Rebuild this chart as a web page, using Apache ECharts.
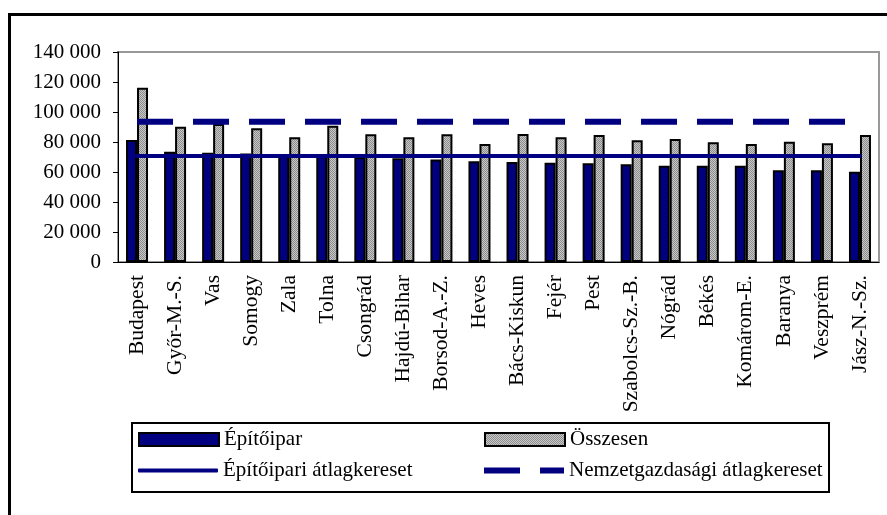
<!DOCTYPE html>
<html>
<head>
<meta charset="utf-8">
<script src="https://cdn.jsdelivr.net/npm/echarts@6/dist/echarts.min.js"></script>
<style>
  html, body { margin: 0; padding: 0; background: #fff; }
  #chart { width: 887px; height: 515px; }
</style>
</head>
<body>
<div id="chart"></div>
<script>
const categories = ["Budapest", "Győr-M.-S.", "Vas", "Somogy", "Zala", "Tolna", "Csongrád",
  "Hajdú-Bihar", "Borsod-A.-Z.", "Heves", "Bács-Kiskun", "Fejér", "Pest", "Szabolcs-Sz.-B.",
  "Nógrád", "Békés", "Komárom-E.", "Baranya", "Veszprém", "Jász-N.-Sz."];
const epitoipar = [81300, 73500, 72900, 72400, 72000, 72000, 69800, 69100, 68400, 67100,
  66700, 66200, 65800, 65100, 64200, 64200, 64200, 61100, 61100, 60200];
const osszesen = [116200, 90200, 92000, 89100, 83100, 90900, 85100, 83100, 85100, 78700,
  85300, 83100, 84700, 81100, 82000, 79800, 78700, 80200, 79100, 84700];
const epitoiparAtlag = 70700;
const nemzetgazdAtlag = 93500;
const yTicks = [0, 20000, 40000, 60000, 80000, 100000, 120000, 140000];

const FONT = "Liberation Serif";
const NAVY = "#000080";

// dithered gray fill like the original
const pat = document.createElement("canvas");
pat.width = 2; pat.height = 2;
const pc = pat.getContext("2d");
pc.fillStyle = "#c8c8c8"; pc.fillRect(0, 0, 2, 2);
pc.fillStyle = "#8c8c8c"; pc.fillRect(0, 0, 1, 1); pc.fillRect(1, 1, 1, 1);

function legendItem(name, icon, left, top, iconH, itemStyle) {
  const lg = {
    data: [{ name: name, icon: icon }],
    left: left,
    top: top,
    padding: 0,
    itemWidth: 80,
    itemHeight: iconH,
    itemGap: 0,
    selectedMode: false,
    textStyle: { fontFamily: FONT, fontSize: 21, color: "#000" }
  };
  if (itemStyle) lg.itemStyle = itemStyle;
  return lg;
}
const lineIcon = { color: NAVY, borderWidth: 0 };

const chart = echarts.init(document.getElementById("chart"));
chart.setOption({
  animation: false,
  backgroundColor: "#fff",
  grid: {
    left: 118, top: 52, right: 8, bottom: 253,
    show: true, borderColor: "#999", borderWidth: 2, backgroundColor: "transparent"
  },
  legend: [
    legendItem("Építőipar", "rect", 138, 429, 13),
    legendItem("Összesen", "rect", 484, 429, 13),
    legendItem("Építőipari átlagkereset", "roundRect", 138, 460, 4, lineIcon),
    legendItem("Nemzetgazdasági átlagkereset", "path://M0 0H36V6H0Z M56 0H80V6H56Z", 484, 460, 6, lineIcon)
  ],
  xAxis: {
    type: "category",
    data: categories,
    axisLine: { lineStyle: { color: "#000", width: 1 } },
    axisTick: { length: 6, lineStyle: { color: "#000" } },
    axisLabel: {
      rotate: 90, margin: 13, interval: 0,
      fontFamily: FONT, fontSize: 21.5, color: "#000"
    }
  },
  yAxis: {
    type: "value",
    min: yTicks[0],
    max: yTicks[yTicks.length - 1],
    interval: yTicks[1] - yTicks[0],
    splitLine: { show: false },
    axisLine: { show: true, lineStyle: { color: "#000", width: 1 } },
    axisTick: { show: true, length: 5, lineStyle: { color: "#000" } },
    axisLabel: {
      margin: 17, fontFamily: FONT, fontSize: 21, color: "#000",
      formatter: v => String(v).replace(/\B(?=(\d{3})+(?!\d))/g, " ")
    }
  },
  series: [
    {
      name: "Építőipar", type: "bar", data: epitoipar,
      barWidth: 11, barGap: "0%",
      itemStyle: { color: NAVY, borderColor: "#000", borderWidth: 2 }
    },
    {
      name: "Összesen", type: "bar", data: osszesen,
      barWidth: 11, barGap: "0%",
      itemStyle: { color: { image: pat, repeat: "repeat" }, borderColor: "#000", borderWidth: 2 }
    },
    {
      name: "Építőipari átlagkereset", type: "line",
      data: categories.map(() => epitoiparAtlag),
      symbol: "none", z: 5,
      lineStyle: { color: NAVY, width: 4, cap: "round" },
      itemStyle: { color: NAVY }
    },
    {
      name: "Nemzetgazdasági átlagkereset", type: "line",
      data: categories.map(() => nemzetgazdAtlag),
      symbol: "none", z: 5,
      lineStyle: { color: NAVY, width: 6, type: [36, 20], cap: "butt" },
      itemStyle: { color: NAVY }
    }
  ],
  graphic: [
    {
      type: "rect", silent: true,
      shape: { x: 9.5, y: 14.5, width: 1000, height: 1000 },
      style: { fill: null, stroke: "#000", lineWidth: 3 }
    },
    {
      type: "rect", silent: true,
      shape: { x: 132, y: 423, width: 697, height: 69 },
      style: { fill: null, stroke: "#000", lineWidth: 2 }
    }
  ]
});
</script>
</body>
</html>
